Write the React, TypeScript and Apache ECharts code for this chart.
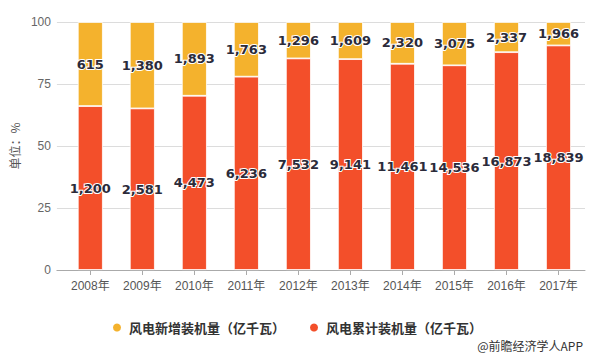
import React, { useEffect, useRef } from "react";
import * as echarts from "echarts";

const years = ["2008年", "2009年", "2010年", "2011年", "2012年", "2013年", "2014年", "2015年", "2016年", "2017年"];
const newCap = [615, 1380, 1893, 1763, 1296, 1609, 2320, 3075, 2337, 1966];
const cumCap = [1200, 2581, 4473, 6236, 7532, 9141, 11461, 14536, 16873, 18839];
const yTicks = { min: 0, max: 100, interval: 25 };
const nameNew = "风电新增装机量（亿千瓦）";
const nameCum = "风电累计装机量（亿千瓦）";

const RED = "#f34f2a";
const YELLOW = "#f4b22d";

export default function App() {
  const ref = useRef<HTMLDivElement>(null);
  useEffect(() => {
    if (!ref.current) return;
    const chart = echarts.init(ref.current, null, { renderer: "svg" });
    const totals = newCap.map((v, i) => v + cumCap[i]);
    const cumPct = cumCap.map((v, i) => (v / totals[i]) * 100);
    const newPct = newCap.map((v, i) => (v / totals[i]) * 100);
    const fmt = (arr: number[]) => (p: any) => arr[p.dataIndex].toLocaleString("en-US");
    const labelStyle = {
      show: true,
      position: "inside" as const,
      fontFamily: "DejaVu Sans",
      fontWeight: "bold" as const,
      fontSize: 13,
      color: "#2b2b3a",
      textBorderColor: "#ffffff",
      textBorderWidth: 2,
    };
    chart.setOption({
      animation: false,
      textStyle: { fontFamily: "Liberation Sans, 'Noto Sans CJK SC', sans-serif" },
      grid: [
        { left: 55, right: 5, top: 22, bottom: 84 },
        { left: 64.3, right: 5.5, top: 22, bottom: 84 },
      ],
      legend: {
        data: [nameNew, nameCum],
        left: 106,
        top: 316,
        icon: "circle",
        itemWidth: 14,
        itemHeight: 10,
        itemGap: 23,
        textStyle: {
          fontFamily: "'Noto Sans CJK SC', sans-serif",
          fontWeight: "bold",
          fontSize: 13,
          color: "#333",
        },
      },
      graphic: [
        {
          type: "text",
          right: 7,
          bottom: 3,
          style: {
            text: "@前瞻经济学人APP",
            fontFamily: "'Noto Sans CJK SC', sans-serif",
            fontSize: 12,
            fill: "#333",
          },
        },
      ],
      xAxis: [
        {
          gridIndex: 0,
          type: "category",
          data: years,
          axisLine: { show: true, lineStyle: { color: "#aaa" } },
          axisTick: { show: false },
          axisLabel: { show: false },
        },
        {
          gridIndex: 1,
          type: "category",
          data: years,
          axisLine: { show: true, lineStyle: { color: "#aaa" } },
          axisTick: { show: true, alignWithLabel: true, length: 5, lineStyle: { color: "#aaa" } },
          axisLabel: { color: "#555", fontSize: 12, margin: 10 },
        },
      ],
      yAxis: [
        {
          gridIndex: 0,
          type: "value",
          min: yTicks.min,
          max: yTicks.max,
          interval: yTicks.interval,
          name: "单位：%",
          nameLocation: "middle",
          nameRotate: 90,
          nameGap: 34,
          nameTextStyle: { color: "#555", fontSize: 12, fontFamily: "'Noto Sans CJK SC', sans-serif" },
          axisLine: { show: false },
          axisTick: { show: false },
          axisLabel: { color: "#666", fontSize: 12, margin: 6 },
          splitLine: { lineStyle: { color: "#dcdcdc" } },
        },
        {
          gridIndex: 1,
          type: "value",
          min: yTicks.min,
          max: yTicks.max,
          show: false,
        },
      ],
      series: [
        {
          name: nameCum,
          type: "bar",
          stack: "total",
          xAxisIndex: 1,
          yAxisIndex: 1,
          barWidth: 25,
          data: cumPct,
          itemStyle: { color: RED, borderColor: "#fff", borderWidth: 0.8 },
          label: { ...labelStyle, formatter: fmt(cumCap) },
        },
        {
          name: nameNew,
          type: "bar",
          stack: "total",
          xAxisIndex: 1,
          yAxisIndex: 1,
          barWidth: 25,
          data: newPct,
          itemStyle: { color: YELLOW, borderColor: "#fff", borderWidth: 0.8 },
          label: { ...labelStyle, formatter: fmt(newCap) },
        },
      ],
    });
    return () => chart.dispose();
  }, []);
  return <div ref={ref} style={{ width: 590, height: 354, position: "absolute", left: 0, top: 0 }} />;
}
